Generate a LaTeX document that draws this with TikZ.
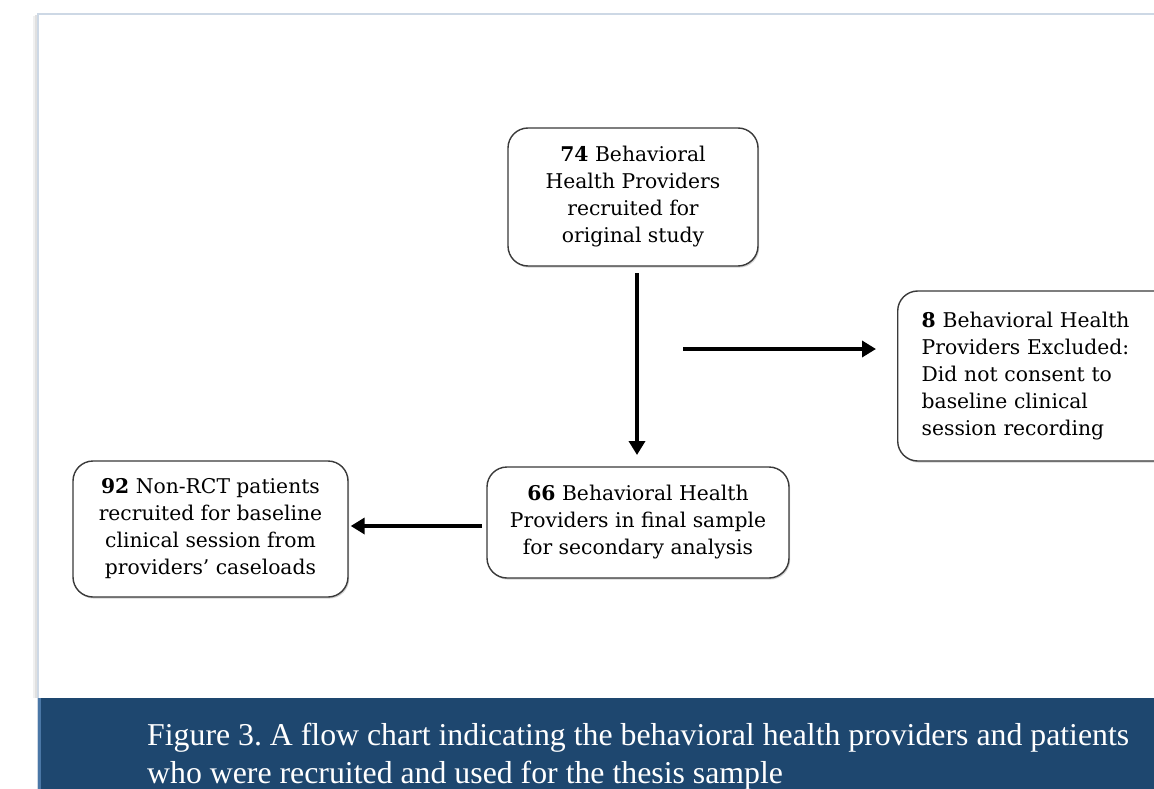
\documentclass[tikz,border=0pt]{standalone}
\usepackage{fontspec}
\setmainfont{DejaVu Serif}
\newfontfamily\capfont{Liberation Serif}
\usetikzlibrary{arrows.meta,shadows}
\definecolor{barblue}{HTML}{1E476F}
\definecolor{baredge}{HTML}{4A77A6}
\definecolor{panelline}{HTML}{CDD8E5}
\definecolor{boxline}{HTML}{3A3A3A}
\frenchspacing
\tikzset{
  flowbox/.style={draw=boxline, line width=1.4pt, rounded corners=20pt, fill=white,
    align=center, font=\fontsize{20.3}{27}\selectfont,
    drop shadow={shadow xshift=1.2pt, shadow yshift=-1.6pt, opacity=0.35, fill=gray}},
  flowarrow/.style={line width=4pt, -{Triangle[length=14pt,width=16pt]}}
}
\begin{document}
\begin{tikzpicture}[x=1pt,y=-1pt]
\clip (0,0) rectangle (1154,789);
\fill[white] (0,0) rectangle (1154,789);
% panel
\fill[black!12] (35,15) rectangle (38,698);
\fill[black!6] (33,16) rectangle (35,698);
\draw[panelline, line width=1.2pt] (38,789) -- (38,14) -- (1154,14);
\fill[barblue] (38,698) rectangle (1154,789);
\fill[baredge] (38,698) rectangle (40.5,789);
\node[anchor=north west, inner sep=0pt, text=white, align=left,
      font=\capfont\fontsize{31.8}{37.5}\selectfont] (cap) at (147,723)
  {Figure 3. A flow chart indicating the behavioral health providers and patients\\
   who were recruited and used for the thesis sample};
% boxes
\node[flowbox, minimum width=250pt, minimum height=138pt] (b74) at (633,197)
  {\textbf{74} Behavioral\\Health Providers\\recruited for\\original study};
\node[flowbox, align=left, text width=276pt, inner xsep=24pt, minimum height=170pt,
      anchor=west] (b8) at (897,376)
  {\textbf{8} Behavioral Health\\Providers Excluded:\\Did not consent to\\baseline clinical\\session recording};
\node[flowbox, minimum width=302pt, minimum height=111pt] (b66) at (638,522.5)
  {\textbf{66} Behavioral Health\\Providers in final sample\\for secondary analysis};
\node[flowbox, minimum width=275pt, minimum height=136pt] (b92) at (210.5,529)
  {\textbf{92} Non-RCT patients\\recruited for baseline\\clinical session from\\providers' caseloads};
% arrows
\coordinate (dtop) at (637,273);
\coordinate (dbot) at (637,455);
\draw[flowarrow] (dtop) -- (dbot);
\coordinate (rstart) at (683,349);
\draw[flowarrow, shorten >=21pt] (rstart) -- (rstart -| b8.west);
\coordinate (lstart) at (482,526);
\draw[flowarrow, shorten >=2pt] (lstart) -- (lstart -| b92.east);
\end{tikzpicture}
\end{document}
